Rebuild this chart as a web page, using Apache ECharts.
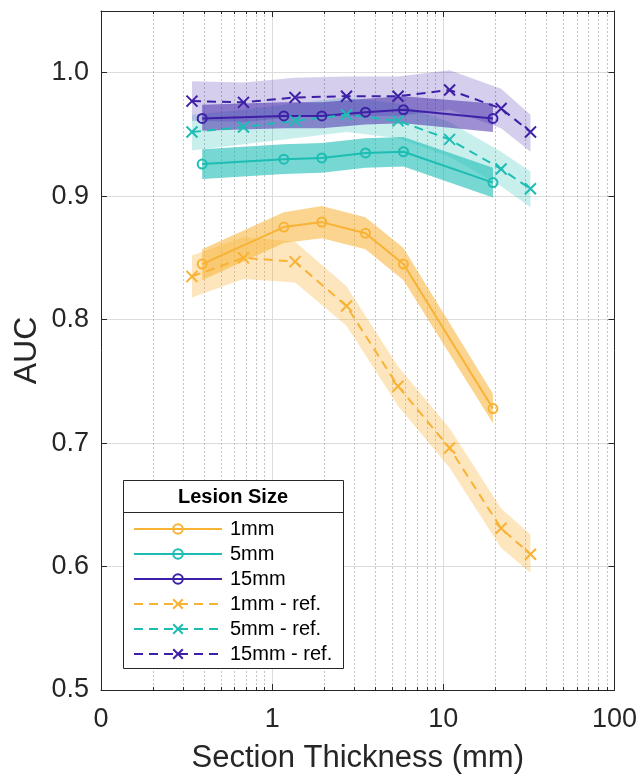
<!DOCTYPE html>
<html>
<head>
<meta charset="utf-8">
<script src="https://cdn.jsdelivr.net/npm/echarts@6/dist/echarts.min.js"></script>
<style>html,body{margin:0;padding:0;background:#fff}#c{width:640px;height:779px}</style>
</head>
<body>
<div id="c"></div>
<script>
// ---- data ----
const xSolid = [0.39, 1.17, 1.95, 3.51, 5.85, 19.5];
const xRef = [0.34, 0.68, 1.36, 2.72, 5.44, 10.88, 21.76, 32.3];

const auc1 = [0.845, 0.875, 0.879, 0.870, 0.845, 0.728];
const auc1Lo = [0.832, 0.862, 0.866, 0.857, 0.832, 0.716];
const auc1Hi = [0.857, 0.887, 0.892, 0.883, 0.858, 0.740];

const auc5 = [0.926, 0.930, 0.931, 0.935, 0.936, 0.911];
const auc5Lo = [0.914, 0.918, 0.919, 0.923, 0.924, 0.899];
const auc5Hi = [0.938, 0.942, 0.943, 0.947, 0.948, 0.923];

const auc15 = [0.963, 0.965, 0.965, 0.968, 0.970, 0.963];
const auc15Lo = [0.953, 0.955, 0.955, 0.958, 0.959, 0.952];
const auc15Hi = [0.974, 0.976, 0.976, 0.979, 0.981, 0.975];

const ref1 = [0.835, 0.850, 0.847, 0.811, 0.746, 0.696, 0.631, 0.610];
const ref1Lo = [0.818, 0.833, 0.830, 0.795, 0.730, 0.680, 0.615, 0.595];
const ref1Hi = [0.852, 0.867, 0.863, 0.827, 0.762, 0.712, 0.647, 0.626];

const ref5 = [0.952, 0.956, 0.961, 0.966, 0.961, 0.946, 0.922, 0.906];
const ref5Lo = [0.937, 0.942, 0.947, 0.952, 0.947, 0.932, 0.908, 0.891];
const ref5Hi = [0.966, 0.970, 0.975, 0.980, 0.975, 0.960, 0.936, 0.920];

const ref15 = [0.977, 0.976, 0.980, 0.981, 0.981, 0.986, 0.971, 0.952];
const ref15Lo = [0.961, 0.960, 0.964, 0.965, 0.965, 0.970, 0.955, 0.936];
const ref15Hi = [0.993, 0.992, 0.996, 0.997, 0.997, 1.002, 0.987, 0.966];

const seriesNames = ['1mm', '5mm', '15mm', '1mm - ref.', '5mm - ref.', '15mm - ref.'];
const xTickLabels = {'0.1': '0', '1': '1', '10': '10', '100': '100'};
const minorX = [0.2,0.3,0.4,0.5,0.6,0.7,0.8,0.9,2,3,4,5,6,7,8,9,20,30,40,50,60,70,80,90];

// ---- styling ----
const cOrange = '#F8B234', cTeal = '#1DBDB4', cPurple = '#3E20A8';
const font = 'Liberation Sans, Arial, Helvetica, sans-serif';
const axisCol = '#262626';
const crossPath = 'path://M0,0L10,10M10,0L0,10';

function band(xs, lo, hi, fill, z) {
  return {
    type: 'custom', silent: true, z: z, clip: true,
    data: [[xs[0], lo[0]]],
    renderItem: function (params, api) {
      const pts = [];
      for (let i = 0; i < xs.length; i++) pts.push(api.coord([xs[i], hi[i]]));
      for (let i = xs.length - 1; i >= 0; i--) pts.push(api.coord([xs[i], lo[i]]));
      return { type: 'polygon', shape: { points: pts }, style: { fill: fill } };
    }
  };
}

function line(name, xs, ys, color, isRef) {
  return {
    type: 'line', name: name, z: 4,
    data: xs.map((x, i) => [x, ys[i]]),
    symbol: isRef ? crossPath : 'circle',
    symbolSize: isRef ? 11 : 9,
    showAllSymbol: true,
    lineStyle: { color: color, width: 2, type: isRef ? [9, 6] : 'solid' },
    itemStyle: { color: isRef ? color : 'rgba(255,255,255,0)', borderColor: color, borderWidth: 2 },
    emphasis: { disabled: true },
    animation: false
  };
}

const minorGrid = {
  type: 'custom', silent: true, z: 1,
  data: minorX.map(v => [v, 0.5]),
  renderItem: function (params, api) {
    const p = api.coord([api.value(0), 0.5]);
    const cs = params.coordSys;
    const x = Math.round(p[0]) + 0.5;
    return {
      type: 'group',
      children: [
        { type: 'line', shape: { x1: x, y1: cs.y, x2: x, y2: cs.y + cs.height },
          style: { stroke: '#c4c4c4', lineWidth: 1, lineDash: [2, 2] } },
        { type: 'line', shape: { x1: x, y1: cs.y + cs.height, x2: x, y2: cs.y + cs.height - 3 },
          style: { stroke: axisCol, lineWidth: 1 } },
        { type: 'line', shape: { x1: x, y1: cs.y, x2: x, y2: cs.y + 3 },
          style: { stroke: axisCol, lineWidth: 1 } }
      ]
    };
  }
};

const chart = echarts.init(document.getElementById('c'), null, { renderer: 'canvas' });
const option = {
  animation: false,
  backgroundColor: '#fff',
  textStyle: { fontFamily: font },
  grid: { left: 101, right: 25, top: 11, bottom: 88 },
  xAxis: [{
    type: 'log', logBase: 10, min: 0.1, max: 100, position: 'bottom',
    name: 'Section Thickness (mm)', nameLocation: 'middle', nameGap: 53,
    nameTextStyle: { fontSize: 31, color: axisCol, fontFamily: font },
    axisLine: { show: true, lineStyle: { color: axisCol, width: 1 } },
    axisTick: { show: true, inside: true, length: 6, lineStyle: { color: axisCol } },
    axisLabel: { fontSize: 27, color: axisCol, margin: 16, fontFamily: font,
      formatter: v => xTickLabels[String(+v.toPrecision(3))] ?? '' },
    splitLine: { show: true, lineStyle: { color: '#dcdcdc', width: 1 } }
  }, {
    type: 'log', logBase: 10, min: 0.1, max: 100, position: 'top',
    axisLine: { show: true, lineStyle: { color: axisCol, width: 1 } },
    axisTick: { show: true, inside: true, length: 6, lineStyle: { color: axisCol } },
    axisLabel: { show: false }, splitLine: { show: false }
  }],
  yAxis: [{
    type: 'value', min: 0.5, max: 1.05, interval: 0.1, position: 'left',
    name: 'AUC', nameLocation: 'middle', nameGap: 58, nameRotate: 90, nameMoveOverlap: false,
    nameTextStyle: { fontSize: 32, color: axisCol, fontFamily: font },
    axisLine: { show: true, lineStyle: { color: axisCol, width: 1 } },
    axisTick: { show: true, inside: true, length: 6, lineStyle: { color: axisCol } },
    axisLabel: { fontSize: 27, color: axisCol, margin: 12, fontFamily: font, showMaxLabel: false,
      formatter: v => (Math.abs(v * 10 - Math.round(v * 10)) < 1e-6 ? v.toFixed(1) : '') },
    splitLine: { show: true, lineStyle: { color: '#dcdcdc', width: 1 } }
  }, {
    type: 'value', min: 0.5, max: 1.05, interval: 0.1, position: 'right',
    axisLine: { show: true, lineStyle: { color: axisCol, width: 1 } },
    axisTick: { show: true, inside: true, length: 6, lineStyle: { color: axisCol } },
    axisLabel: { show: false }, splitLine: { show: false }
  }],
  legend: {
    data: seriesNames, orient: 'vertical', left: 133, top: 519, z: 20, padding: 0,
    itemWidth: 88, itemHeight: 12, itemGap: 5,
    textStyle: { fontSize: 20, lineHeight: 20, color: '#000', fontFamily: font, padding: [0, 0, 0, 3] },
    selectedMode: false
  },
  graphic: [
    { type: 'rect', z: 15, shape: { x: 123.5, y: 480.5, width: 220, height: 188 },
      style: { fill: '#fff', stroke: axisCol, lineWidth: 1 } },
    { type: 'line', z: 16, shape: { x1: 123.5, y1: 512.5, x2: 343.5, y2: 512.5 },
      style: { stroke: axisCol, lineWidth: 1 } },
    { type: 'text', z: 16, x: 233, y: 497,
      style: { text: 'Lesion Size', font: 'bold 20px ' + font, fill: '#000', align: 'center', verticalAlign: 'middle' } }
  ],
  series: [
    minorGrid,
    band(xRef, ref1Lo, ref1Hi, 'rgba(248,178,52,0.32)', 2),
    band(xRef, ref5Lo, ref5Hi, 'rgba(29,189,180,0.24)', 2),
    band(xRef, ref15Lo, ref15Hi, 'rgba(62,32,168,0.22)', 2),
    band(xSolid, auc1Lo, auc1Hi, 'rgba(248,178,52,0.55)', 3),
    band(xSolid, auc5Lo, auc5Hi, 'rgba(29,189,180,0.6)', 3),
    band(xSolid, auc15Lo, auc15Hi, 'rgba(62,32,168,0.5)', 3),
    line('1mm', xSolid, auc1, cOrange, false),
    line('5mm', xSolid, auc5, cTeal, false),
    line('15mm', xSolid, auc15, cPurple, false),
    line('1mm - ref.', xRef, ref1, cOrange, true),
    line('5mm - ref.', xRef, ref5, cTeal, true),
    line('15mm - ref.', xRef, ref15, cPurple, true)
  ]
};
chart.setOption(option);
</script>
</body>
</html>
